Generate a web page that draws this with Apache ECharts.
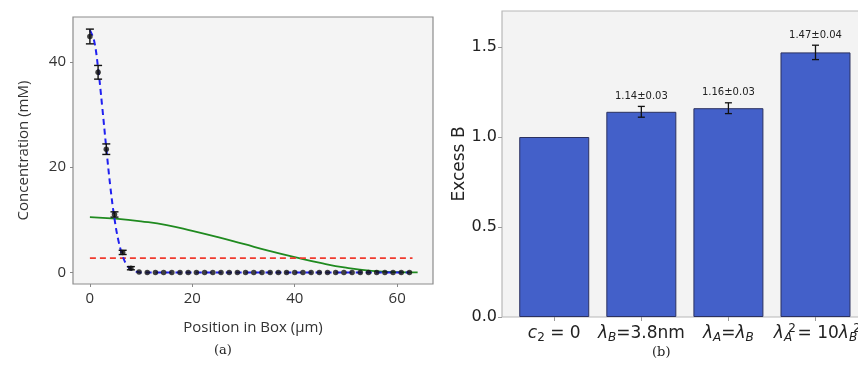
<!DOCTYPE html>
<html>
<head>
<meta charset="utf-8">
<script src="https://cdn.jsdelivr.net/npm/echarts@6/dist/echarts.min.js"></script>
<style>
  html, body { margin: 0; padding: 0; background: #fff; }
  #main { width: 858px; height: 370px; }
</style>
</head>
<body>
<div id="main"></div>
<script type="text/javascript">
// ---- panel (a): concentration profile ----
var posX = [0, 1.6, 3.2, 4.8, 6.4, 8.0, 9.6, 11.2, 12.8, 14.4, 16.0, 17.6, 19.2, 20.8, 22.4, 24.0,
            25.6, 27.2, 28.8, 30.4, 32.0, 33.6, 35.2, 36.8, 38.4, 40.0, 41.6, 43.2, 44.8, 46.4,
            48.0, 49.6, 51.2, 52.8, 54.4, 56.0, 57.6, 59.2, 60.8, 62.4];
var concVals = [44.8, 38.0, 23.4, 11.0, 3.8, 0.8, 0.1, 0, 0, 0, 0, 0, 0, 0, 0, 0,
                0, 0, 0, 0, 0, 0, 0, 0, 0, 0, 0, 0, 0, 0,
                0, 0, 0, 0, 0, 0, 0, 0, 0, 0];
var concErr = [1.4, 1.3, 1.0, 0.5, 0.4, 0.3, 0, 0, 0, 0, 0, 0, 0, 0, 0, 0,
               0, 0, 0, 0, 0, 0, 0, 0, 0, 0, 0, 0, 0, 0,
               0, 0, 0, 0, 0, 0, 0, 0, 0, 0];
// fitted (blue dashed)
var fitX = [0, 0.8, 1.6, 2.4, 3.2, 4.0, 4.8, 5.6, 6.4, 7.2, 8.0, 8.8, 9.6, 10.4, 20, 40, 62.4];
var fitY = [46.0, 44.1, 38.8, 31.5, 23.6, 16.2, 10.2, 5.9, 3.1, 1.4, 0.6, 0.2, 0.05, 0, 0, 0, 0];
// green curve
var greenX = [0, 5, 10, 15, 20, 25, 30, 35, 40, 45, 50, 55, 60, 64];
var greenY = [10.5, 10.2, 9.7, 9.0, 7.9, 6.7, 5.4, 4.1, 2.9, 1.8, 0.9, 0.3, 0.05, 0];
// red dashed level
var redX = [0, 63];
var redY = [2.7, 2.7];

// ---- panel (b): excess B ----
var barLabels = [
  '{i|c}{subn|2}{n| = 0}',
  '{i|λ}{sub|B}{n|=3.8nm}',
  '{i|λ}{sub|A}{n|=}{i|λ}{sub|B}',
  '{i|λ}{sub|A}{supz|2}{n| = 10}{i|λ}{sub|B}{supz|2}'
];
var barVals = [1.00, 1.14, 1.16, 1.47];
var barErr = [0, 0.03, 0.03, 0.04];
var barText = ['', '1.14±0.03', '1.16±0.03', '1.47±0.04'];

function zip(a, b) { return a.map(function (v, i) { return [v, b[i]]; }); }

var chart = echarts.init(document.getElementById('main'), null, { renderer: 'canvas' });

var errData = posX.map(function (x, i) { return [x, concVals[i], concErr[i]]; });
var barErrData = barVals.map(function (v, i) { return [i, v, barErr[i]]; });

var option = {
  animation: false,
  backgroundColor: '#ffffff',
  grid: [
    { left: 73, top: 17, width: 360, height: 267, show: true, outerBoundsMode: 'none',
      backgroundColor: '#f4f4f4', borderColor: '#8c8c8c', borderWidth: 1.2 },
    { left: 502, top: 11, width: 364, height: 306, show: true, outerBoundsMode: 'none',
      backgroundColor: '#f3f3f3', borderColor: '#b8b8b8', borderWidth: 1.2 }
  ],
  xAxis: [
    { gridIndex: 0, type: 'value', min: -3.3, max: 67,
      name: 'Position in Box (μm)', nameLocation: 'middle', nameGap: 36,
      nameTextStyle: { fontFamily: 'Open Sans', fontSize: 15, color: '#333' },
      axisLine: { show: false, onZero: false }, splitLine: { show: false },
      axisTick: { show: true, length: 3, customValues: [0, 20, 40, 60], lineStyle: { color: '#888' } },
      axisLabel: { customValues: [0, 20, 40, 60], margin: 7, fontFamily: 'Open Sans', fontSize: 15, color: '#333' } },
    { gridIndex: 1, type: 'value', min: -0.6, max: 3.58,
      axisLine: { show: false, onZero: false }, splitLine: { show: false },
      axisTick: { show: true, length: 4, customValues: [0, 1, 2, 3], lineStyle: { color: '#999' } },
      axisLabel: {
        customValues: [0, 1, 2, 3], margin: 6, color: '#222', hideOverlap: false,
        formatter: function (v) { return barLabels[Math.round(v)]; },
        rich: {
          n: { fontFamily: 'DejaVu Sans', fontSize: 17, color: '#222' },
          i: { fontFamily: 'DejaVu Sans', fontStyle: 'italic', fontSize: 17, color: '#222' },
          sub: { fontFamily: 'DejaVu Sans', fontStyle: 'italic', fontSize: 12, color: '#222', padding: [9, 0, 0, 0] },
          subn: { fontFamily: 'DejaVu Sans', fontSize: 12, color: '#222', padding: [9, 0, 0, 0] },
          supz: { fontFamily: 'DejaVu Sans', fontSize: 12, color: '#222', padding: [0, 0, 9, 0], width: 0.01 }
        }
      } }
  ],
  yAxis: [
    { gridIndex: 0, type: 'value', min: -2.2, max: 48.5,
      name: 'Concentration (mM)', nameLocation: 'middle', nameGap: 42,
      nameTextStyle: { fontFamily: 'Open Sans', fontSize: 15, color: '#333' },
      axisLine: { show: false, onZero: false }, splitLine: { show: false },
      axisTick: { show: true, length: 3, customValues: [0, 20, 40], lineStyle: { color: '#888' } },
      axisLabel: { customValues: [0, 20, 40], margin: 7, fontFamily: 'Open Sans', fontSize: 15, color: '#333' } },
    { gridIndex: 1, type: 'value', min: 0, max: 1.7,
      name: 'Excess B', nameLocation: 'middle', nameGap: 33,
      nameTextStyle: { fontFamily: 'DejaVu Sans', fontSize: 17, color: '#222' },
      axisLine: { show: false, onZero: false }, splitLine: { show: false },
      axisTick: { show: true, length: 4, customValues: [0, 0.5, 1, 1.5], lineStyle: { color: '#999' } },
      axisLabel: { customValues: [0, 0.5, 1, 1.5], margin: 5, fontFamily: 'DejaVu Sans', fontSize: 16, color: '#222',
        formatter: function (v) { return v.toFixed(1); } } }
  ],
  series: [
    { type: 'line', xAxisIndex: 0, yAxisIndex: 0, data: zip(greenX, greenY), smooth: true,
      symbol: 'none', lineStyle: { color: '#1f8a1f', width: 1.8 }, z: 2 },
    { type: 'line', xAxisIndex: 0, yAxisIndex: 0, data: zip(redX, redY),
      symbol: 'none', lineStyle: { color: '#f03a2e', width: 1.8, type: [6, 4] }, z: 2 },
    { type: 'line', xAxisIndex: 0, yAxisIndex: 0, data: zip(fitX, fitY), smooth: 0.4,
      symbol: 'none', lineStyle: { color: '#2020f0', width: 2, type: [6, 4] }, z: 3 },
    { type: 'custom', xAxisIndex: 0, yAxisIndex: 0, data: errData, z: 4,
      renderItem: function (params, api) {
        var x = api.value(0), y = api.value(1), e = api.value(2);
        if (!e) return null;
        var top = api.coord([x, y + e]), bot = api.coord([x, y - e]);
        var st = { stroke: '#111', lineWidth: 1.4 };
        return { type: 'group', children: [
          { type: 'line', shape: { x1: top[0], y1: top[1], x2: bot[0], y2: bot[1] }, style: st },
          { type: 'line', shape: { x1: top[0] - 4, y1: top[1], x2: top[0] + 4, y2: top[1] }, style: st },
          { type: 'line', shape: { x1: bot[0] - 4, y1: bot[1], x2: bot[0] + 4, y2: bot[1] }, style: st }
        ] };
      } },
    { type: 'scatter', xAxisIndex: 0, yAxisIndex: 0, data: zip(posX, concVals),
      symbolSize: 5.5, itemStyle: { color: '#111' }, z: 5 },
    { type: 'bar', xAxisIndex: 1, yAxisIndex: 1, data: zip([0, 1, 2, 3], barVals), barWidth: 70,
      itemStyle: { color: '#4360c9', borderColor: '#2b3160', borderWidth: 1 }, z: 2 },
    { type: 'custom', xAxisIndex: 1, yAxisIndex: 1, data: barErrData, z: 4,
      renderItem: function (params, api) {
        var x = api.value(0), y = api.value(1), e = api.value(2);
        var txt = barText[params.dataIndex];
        if (!e) return null;
        var top = api.coord([x, y + e]), bot = api.coord([x, y - e]);
        var st = { stroke: '#111', lineWidth: 1.3 };
        return { type: 'group', children: [
          { type: 'line', shape: { x1: top[0], y1: top[1], x2: bot[0], y2: bot[1] }, style: st },
          { type: 'line', shape: { x1: top[0] - 3.5, y1: top[1], x2: top[0] + 3.5, y2: top[1] }, style: st },
          { type: 'line', shape: { x1: bot[0] - 3.5, y1: bot[1], x2: bot[0] + 3.5, y2: bot[1] }, style: st },
          { type: 'text', x: top[0], y: top[1] - 10,
            style: { text: txt, align: 'center', verticalAlign: 'middle',
              font: '10px "DejaVu Sans"', fill: '#222' } }
        ] };
      } }
  ],
  graphic: [
    { type: 'text', left: 214, top: 344, style: { text: '(a)', font: '13px "DejaVu Serif"', fill: '#222' } },
    { type: 'text', left: 652, top: 346, style: { text: '(b)', font: '13px "DejaVu Serif"', fill: '#222' } }
  ]
};
chart.setOption(option);
</script>
</body>
</html>
